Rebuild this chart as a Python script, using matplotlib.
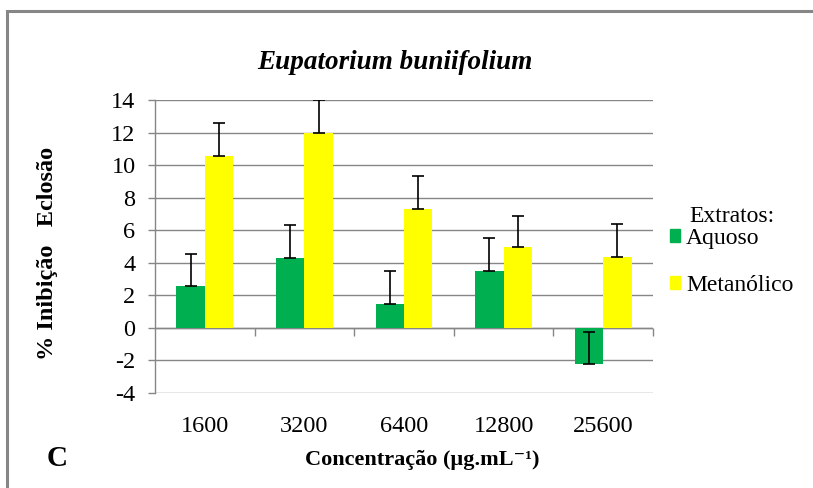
import numpy as np
import matplotlib.pyplot as plt
from matplotlib.patches import Patch, Rectangle

# Hatching inhibition for each concentration and extract
concentracoes = ["1600", "3200", "6400", "12800", "25600"]
aquoso = [2.55, 4.29, 1.46, 3.49, -2.25]
aquoso_err = [2.0, 2.03, 2.01, 2.05, 2.01]
metanolico = [10.58, 11.94, 7.28, 4.93, 4.37]
metanolico_err = [2.03, 2.05, 2.03, 1.94, 2.01]

verde = "#00B050"
amarelo = "#FFFF00"
cinza = "#868686"

plt.rcParams["font.family"] = ["Liberation Serif", "DejaVu Serif"]

fig = plt.figure(figsize=(8.13, 4.88), dpi=100)
W, H = 813, 488
ax = fig.add_axes([155 / W, 1 - 392.7 / H, (653 - 155) / W, (392.7 - 100) / H])

x = np.arange(len(concentracoes))
w = 0.286
ax.bar(x - w / 2, aquoso, w, color=verde, zorder=3)
ax.bar(x + w / 2, metanolico, w, color=amarelo, zorder=3)
ekw = dict(fmt="none", ecolor="black", elinewidth=1.2, capsize=4.3, capthick=1.2, zorder=4)
ax.errorbar(x - w / 2, aquoso, yerr=[np.zeros(len(x)), aquoso_err], **ekw)
ax.errorbar(x + w / 2, metanolico, yerr=[np.zeros(len(x)), metanolico_err], **ekw)

ax.set_xlim(-0.5, len(x) - 0.5)
ax.set_ylim(-4, 14)
ax.set_yticks(np.arange(-4, 15, 2))
ax.set_yticklabels([str(v) for v in range(-4, 15, 2)])
ax.yaxis.grid(True, color=cinza, linewidth=1.0, zorder=0)
ax.set_axisbelow(True)
for s in ["top", "right", "bottom"]:
    ax.spines[s].set_visible(False)
ax.spines["left"].set_color(cinza)
ax.spines["left"].set_linewidth(1.0)
ax.tick_params(axis="y", direction="out", length=5, width=1.0, color=cinza,
               labelsize=17.5, pad=9)
ax.set_xticks(x)
ax.set_xticklabels(concentracoes)
ax.tick_params(axis="x", length=0, labelsize=17.5, pad=17)

# zero line with category separators
ax.axhline(0, color=cinza, linewidth=1.0, zorder=2)
sec = ax.secondary_xaxis(0, transform=ax.transData)
sec.spines["bottom"].set_visible(False)
sec.set_xticks(np.arange(0.5, len(x) - 0.5 + 1, 1.0))
sec.set_xticklabels([])
sec.tick_params(axis="x", direction="out", length=6, width=1.0, color=cinza)

ax.set_title("Eupatorium buniifolium", fontsize=19.5, fontweight="bold",
             style="italic", pad=22, x=0.482)

fig.text(48 / W, 1 - 253 / H, "% Inibição   Eclosão", rotation=90, ha="center",
         va="center", fontsize=17.5, fontweight="bold")
fig.text(422 / W, 1 - 460 / H, "Concentração (µg.mL⁻¹)", ha="center", va="center",
         fontsize=16, fontweight="bold")
fig.text(57 / W, 1 - 458 / H, "C", ha="center", va="center", fontsize=21,
         fontweight="bold")

handles = [Patch(color=verde), Patch(color=amarelo)]
leg = fig.legend(handles, ["Aquoso", "Metanólico"], title="Extratos:",
                 loc="upper left", bbox_to_anchor=(653 / W, 1 - 189 / H),
                 frameon=False, fontsize=17, title_fontsize=17,
                 handlelength=0.45, handleheight=0.45, handletextpad=0.25,
                 labelspacing=1.1, borderpad=0.2)
leg._legend_box.sep = 1

# outer frame
fig.add_artist(Rectangle((7 / W, -0.1), 1.2, 1 - 11 / H + 0.1, transform=fig.transFigure,
                         fill=False, edgecolor=cinza, linewidth=2.2))

fig.savefig("out.png", dpi=100)
